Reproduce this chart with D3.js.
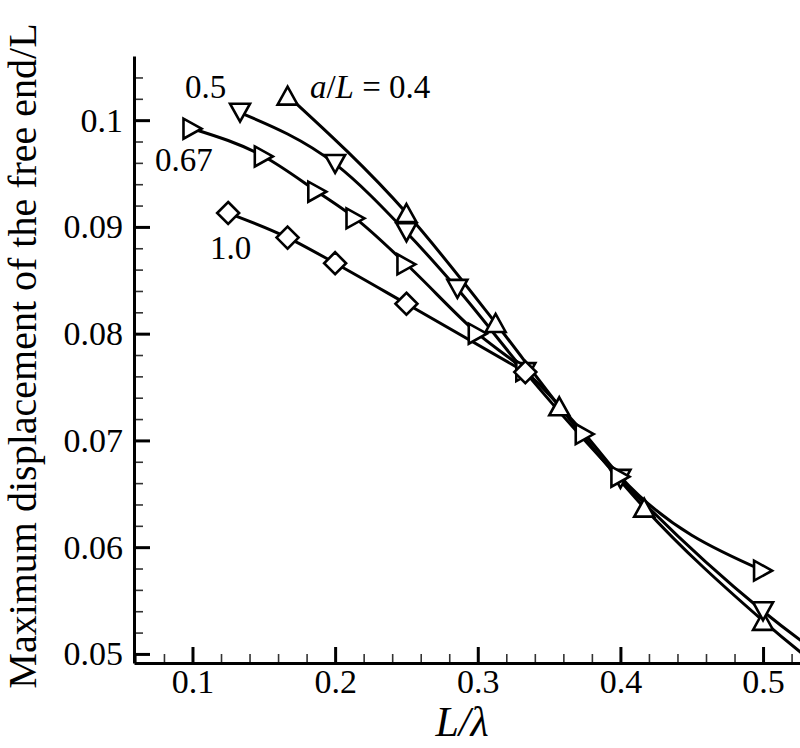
<!DOCTYPE html>
<html>
<head>
<meta charset="utf-8">
<script src="https://cdn.jsdelivr.net/npm/d3@7/dist/d3.min.js"></script>
<style>
  body { margin: 0; background: #fff; }
  text { font-family: "Liberation Serif", "Times New Roman", serif; fill: #000; }
</style>
</head>
<body>
<script>
// values (L/lambda, max displacement / L)
let xA04 = [1/6, 0.25, 0.3125, 5/14, 5/12, 0.5, 0.625],
    yA04 = [0.1023, 0.0913, 0.0810, 0.0732, 0.0637, 0.0531, 0.0405];

let xA05 = [2/15, 0.2, 0.25, 2/7, 1/3, 0.4, 0.5, 2/3],
    yA05 = [0.1007, 0.0959, 0.0895, 0.0842, 0.0764, 0.0664, 0.0540, 0.0400];

let xA067 = [0.1, 0.15, 0.1875, 3/14, 0.25, 0.3, 1/3, 0.375, 0.4, 0.5],
    yA067 = [0.0992, 0.0966, 0.0933, 0.0908, 0.0865, 0.0800, 0.0765, 0.0706, 0.0666, 0.0578];

let xA10 = [0.125, 1/6, 0.2, 0.25, 1/3],
    yA10 = [0.0913, 0.0890, 0.0866, 0.0828, 0.0764];

let seriesNames = ["0.4", "0.5", "0.67", "1.0"];
let xTicks = [0.1, 0.2, 0.3, 0.4, 0.5],
    xTickLabels = ["0.1", "0.2", "0.3", "0.4", "0.5"];
let yTicks = [0.05, 0.06, 0.07, 0.08, 0.09, 0.1],
    yTickLabels = ["0.05", "0.06", "0.07", "0.08", "0.09", "0.1"];

let margin = {top: 56, right: 0, bottom: 85, left: 134},
    width = 800 - margin.left - margin.right,
    height = 748 - margin.top - margin.bottom;

let svg = d3.select("body").append("svg")
    .attr("width", 800)
    .attr("height", 748);

let g = svg.append("g")
    .attr("transform", `translate(${margin.left}, ${margin.top})`);

let xScaler = d3.scaleLinear().domain([0.059, 0.5259]).range([0, width]);
let yScaler = d3.scaleLinear().domain([0.04915, 0.10601]).range([height, 0]);

svg.append("defs").append("clipPath").attr("id", "plot")
    .append("rect").attr("width", width).attr("height", height);

// minor ticks
let xMinor = d3.range(0.06, 0.5259, 0.02).filter(v => Math.abs(v * 10 - Math.round(v * 10)) > 1e-6);
let yMinor = d3.range(0.05, 0.106, 0.002).filter(v => Math.abs(v * 100 - Math.round(v * 100)) > 1e-6);

g.append("g")
    .attr("transform", `translate(0, ${height})`)
    .call(d3.axisBottom(xScaler).tickValues(xMinor).tickSize(-9).tickFormat(""))
    .call(a => a.select(".domain").remove())
    .selectAll("line").attr("stroke-width", 1.6).attr("stroke", "#333");

g.append("g")
    .call(d3.axisLeft(yScaler).tickValues(yMinor).tickSize(-9).tickFormat(""))
    .call(a => a.select(".domain").remove())
    .selectAll("line").attr("stroke-width", 1.6).attr("stroke", "#333");

// major axes
let xAxis = g.append("g")
    .attr("transform", `translate(0, ${height})`)
    .call(d3.axisBottom(xScaler).tickValues(xTicks).tickSize(-16).tickSizeOuter(0)
        .tickPadding(6).tickFormat((d, i) => xTickLabels[i]));

let yAxis = g.append("g")
    .call(d3.axisLeft(yScaler).tickValues(yTicks).tickSize(-16).tickSizeOuter(0)
        .tickPadding(11).tickFormat((d, i) => yTickLabels[i]));

[xAxis, yAxis].forEach(a => {
    a.select(".domain").attr("stroke-width", 3);
    a.selectAll(".tick line").attr("stroke-width", 3);
    a.selectAll("text").style("font-size", "34px").attr("fill", "#000");
});

// curves
let series = [
    {name: seriesNames[0], xs: xA04, ys: yA04, marker: "up"},
    {name: seriesNames[1], xs: xA05, ys: yA05, marker: "down"},
    {name: seriesNames[2], xs: xA067, ys: yA067, marker: "right"},
    {name: seriesNames[3], xs: xA10, ys: yA10, marker: "diamond"}
];

let lineMaker = d3.line()
    .x(d => xScaler(d[0]))
    .y(d => yScaler(d[1]))
    .curve(d3.curveMonotoneX);

let plot = g.append("g").attr("clip-path", "url(#plot)");

series.forEach(s => {
    let pts = s.xs.map((v, i) => [v, s.ys[i]]);
    plot.append("path")
        .datum(pts)
        .attr("fill", "none")
        .attr("stroke", "#000")
        .attr("stroke-width", 3)
        .attr("d", lineMaker);
});

let markerPath = {
    up: "M0,-9L10,9L-10,9Z",
    down: "M0,9L10,-9L-10,-9Z",
    right: "M9,0L-9,-10L-9,10Z",
    diamond: "M0,-11L11,0L0,11L-11,0Z"
};

series.forEach(s => {
    plot.selectAll(null)
        .data(s.xs.map((v, i) => [v, s.ys[i]]))
        .enter()
        .append("path")
            .attr("transform", d => `translate(${xScaler(d[0])}, ${yScaler(d[1])})`)
            .attr("d", markerPath[s.marker])
            .attr("fill", "#fff")
            .attr("stroke", "#000")
            .attr("stroke-width", 2.6)
            .attr("stroke-linejoin", "miter");
});

// curve labels
let label = g.append("text")
    .attr("x", xScaler(0.1823))
    .attr("y", yScaler(0.10207))
    .style("font-size", "33px");
label.append("tspan").style("font-style", "italic").text("a");
label.append("tspan").text("/");
label.append("tspan").style("font-style", "italic").text("L");
label.append("tspan").text(" = " + seriesNames[0]);

let otherLabels = [
    {text: seriesNames[1], x: 0.0947, y: 0.10207},
    {text: seriesNames[2], x: 0.0737, y: 0.09521},
    {text: seriesNames[3], x: 0.1123, y: 0.0870}
];
g.selectAll(".curve-label")
    .data(otherLabels)
    .enter()
    .append("text")
        .attr("class", "curve-label")
        .attr("x", d => xScaler(d.x))
        .attr("y", d => yScaler(d.y))
        .style("font-size", "33px")
        .text(d => d.text);

// axis titles
svg.append("text")
    .attr("x", 462)
    .attr("y", 736)
    .attr("text-anchor", "middle")
    .style("font-size", "42px")
    .style("font-style", "italic")
    .text("L/λ");

svg.append("text")
    .attr("transform", "translate(36, 356) rotate(-90)")
    .attr("text-anchor", "middle")
    .style("font-size", "40px")
    .text("Maximum displacement of the free end/L");
</script>
</body>
</html>
